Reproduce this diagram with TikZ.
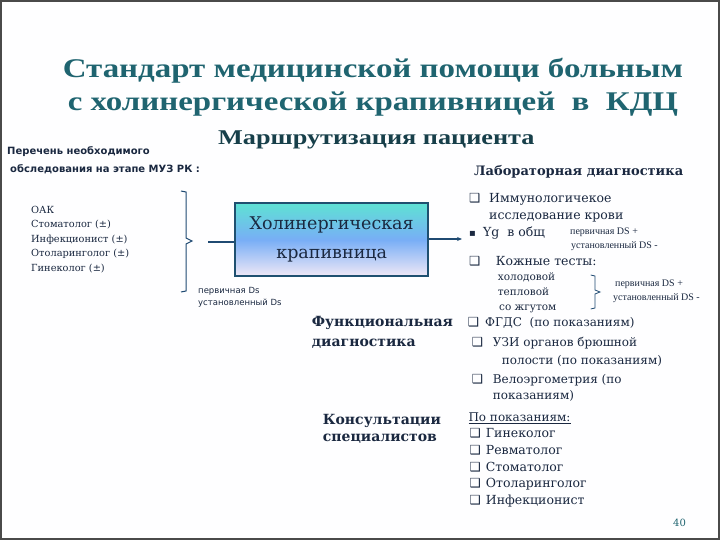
\documentclass[tikz,border=0pt]{standalone}
\usepackage{fontspec}
\setmainfont{DejaVu Serif}
\newfontfamily\titlefont[FakeStretch=1.22]{Liberation Serif}
\newfontfamily\subfont[FakeStretch=1.25]{Liberation Serif}
\newfontfamily\sansf{DejaVu Sans}
\newfontfamily\timesf{Liberation Serif}
\newcommand\fs[2]{\fontsize{#1}{#2}\selectfont}
\newcommand\cbx{{\sansf\bfseries ❑}}
\definecolor{titlecol}{HTML}{1F6470}
\definecolor{subcol}{HTML}{173F4A}
\definecolor{txtcol}{HTML}{1A2840}
\definecolor{framecol}{HTML}{4A4A4A}
\definecolor{boxborder}{HTML}{1F5070}
\definecolor{boxtop}{HTML}{5EE2D4}
\definecolor{boxmid}{HTML}{78AEF6}
\definecolor{boxbot}{HTML}{F0E8F6}
\definecolor{linecol}{HTML}{1F4A72}
\pgfdeclareverticalshading{holshade}{100bp}{color(0bp)=(boxbot); color(25bp)=(boxbot); color(50bp)=(boxmid); color(75bp)=(boxtop); color(100bp)=(boxtop)}
\tikzset{
  txt/.style={anchor=base west, inner sep=0pt, text=txtcol},
  ttl/.style={anchor=base, inner sep=0pt, text=titlecol, font=\titlefont\bfseries\fs{27}{32}},
  cb/.style={anchor=base west, inner sep=0pt, text=txtcol, font=\fs{12.5}{14}},
  holbox/.style={draw=boxborder, line width=2pt, shading=holshade,
    minimum width=193pt, minimum height=73pt, align=center, text=txtcol, font=\fs{17.5}{29}, inner sep=0pt},
  conn/.style={draw=linecol, line width=2.4pt},
  arr/.style={draw=linecol, line width=1.4pt, -{Stealth[length=5pt,width=4pt]}},
  bracepath/.style={draw=linecol, line width=1pt},
}
\usetikzlibrary{arrows.meta}
\begin{document}
\begin{tikzpicture}[x=1pt,y=-1pt]
\useasboundingbox (0,0) rectangle (720,540);
\fill[white!97!blue!10] (0,0) rectangle (720,540);
\draw[draw=framecol, line width=1.6pt] (0.8,0.8) rectangle (719.2,539.2);

% titles
\node[ttl] (t1) at (373,78) {Стандарт медицинской помощи больным};
\node[ttl] (t2) at (373,111) {с холинергической крапивницей \ в \ КДЦ};
\node[txt, text=subcol, font=\subfont\bfseries\fs{21}{24}] (t3) at (218,145) {Маршрутизация пациента};

% left header
\node[txt, font=\sansf\bfseries\fs{10}{12}] (h1) at (7,155) {Перечень необходимого};
\node[txt, font=\sansf\bfseries\fs{10}{12}] (h2) at (10,173) {обследования на этапе МУЗ РК :};

% left list
\node[txt, font=\fs{9.8}{12}] (a1) at (31,213.3) {ОАК};
\node[txt, font=\fs{9.8}{12}] (a2) at (31,227.8) {Стоматолог (±)};
\node[txt, font=\fs{9.8}{12}] (a3) at (31,242.3) {Инфекционист (±)};
\node[txt, font=\fs{9.8}{12}] (a4) at (31,256.8) {Отоларинголог (±)};
\node[txt, font=\fs{9.8}{12}] (a5) at (31,271.3) {Гинеколог (±)};

% left brace
\draw[bracepath] (181,191) -- (186,192) -- (186,238) -- (192,241) -- (186,244) -- (186,291) -- (181,292);

% central box
\node[holbox, shade, draw] (hol) at (331.7,239.7) {Холинергическая\\крапивница};
\coordinate (lstart) at (208,242);
\coordinate (aend) at (462,239);
\draw[conn] (lstart) -- (lstart -| hol.west);
\draw[arr] (aend -| hol.east) -- (aend);

\node[txt, font=\sansf\fs{8.5}{10}] (p1) at (198,293) {первичная Ds};
\node[txt, font=\sansf\fs{8.5}{10}] (p2) at (198,305) {установленный Ds};

% laboratory
\node[txt, font=\bfseries\fs{13}{15}] (lab) at (474,175.7) {Лабораторная диагностика};
\node[cb] (c1) at (469,202.7) {\cbx};
\node[txt, font=\fs{12.5}{15}] (i1) at (489,202.7) {Иммунологичекое};
\node[txt, font=\fs{12.5}{15}] (i2) at (489,219.3) {исследование крови};
\node[txt, font=\sansf\fs{10}{12}] (b1) at (469,236.7) {▪};
\node[txt, font=\fs{12.5}{15}] (i3) at (483,236.7) {Yg \ в общ};
\node[txt, font=\timesf\fs{10}{12}] (s1) at (570,235) {первичная DS +};
\node[txt, font=\timesf\fs{10}{12}] (s2) at (571,248.3) {установленный DS -};
\node[cb] (c2) at (469,265) {\cbx};
\node[txt, font=\fs{12.5}{15}] (i4) at (495.7,265) {Кожные тесты:};
\node[txt, font=\fs{10.5}{13}] (k1) at (497.7,280.7) {холодовой};
\node[txt, font=\fs{10.5}{13}] (k2) at (497.7,295.7) {тепловой};
\node[txt, font=\fs{10.5}{13}] (k3) at (499,310.5) {со жгутом};
\draw[bracepath, line width=0.8pt] (590.7,275) -- (595,276) -- (595,290) -- (600,292) -- (595,294) -- (595,308) -- (590.7,309);
\node[txt, font=\timesf\fs{10}{12}] (s3) at (615,286.7) {первичная DS +};
\node[txt, font=\timesf\fs{10}{12}] (s4) at (613,300.7) {установленный DS -};

% functional
\node[txt, font=\bfseries\fs{14}{17}] (f1) at (311.7,326.7) {Функциональная};
\node[txt, font=\bfseries\fs{14}{17}] (f2) at (311.7,346.7) {диагностика};
\node[cb] (c3) at (467.7,326.7) {\cbx};
\node[txt, font=\fs{12}{15}] (g1) at (485,326.7) {ФГДС \ (по показаниям)};
\node[cb] (c4) at (471.7,346.7) {\cbx};
\node[txt, font=\fs{12}{15}] (g2) at (492.7,346.7) {УЗИ органов брюшной};
\node[txt, font=\fs{12}{15}] (g3) at (501.7,364) {полости (по показаниям)};
\node[cb] (c5) at (471.7,383.3) {\cbx};
\node[txt, font=\fs{12}{15}] (g4) at (492.7,383.3) {Велоэргометрия (по};
\node[txt, font=\fs{12}{15}] (g5) at (492.7,399.3) {показаниям)};

% consultations
\node[txt, font=\bfseries\fs{14}{17}] (k4) at (322.7,424) {Консультации};
\node[txt, font=\bfseries\fs{14}{17}] (k5) at (322.7,441.7) {специалистов};
\node[txt, font=\fs{12}{15}] (u0) at (468.3,421.7) {\underline{По показаниям:}};
\node[cb] (c6) at (469.3,437.3) {\cbx};
\node[txt, font=\fs{12.5}{15}] (u1) at (485.7,437.3) {Гинеколог};
\node[cb] (c7) at (469.3,454) {\cbx};
\node[txt, font=\fs{12.5}{15}] (u2) at (485.7,454) {Ревматолог};
\node[cb] (c8) at (469.3,471) {\cbx};
\node[txt, font=\fs{12.5}{15}] (u3) at (485.7,471) {Стоматолог};
\node[cb] (c9) at (469.3,487.7) {\cbx};
\node[txt, font=\fs{12.5}{15}] (u4) at (485.7,487.7) {Отоларинголог};
\node[cb] (c10) at (469.3,504.3) {\cbx};
\node[txt, font=\fs{12.5}{15}] (u5) at (485.7,504.3) {Инфекционист};

\node[txt, text=titlecol, font=\fs{10}{12}] (pg) at (673,526.7) {40};
\end{tikzpicture}
\end{document}
